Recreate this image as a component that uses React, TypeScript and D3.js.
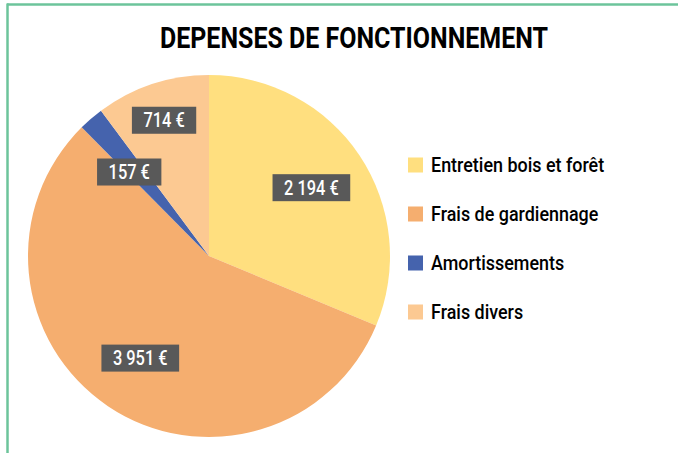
import * as React from 'react'
import { useEffect, useRef } from 'react'
import * as d3 from 'd3'

const categories = ['Entretien bois et forêt', 'Frais de gardiennage', 'Amortissements', 'Frais divers']
const values = [2194, 3951, 157, 714]
const valueLabels = ['2 194 €', '3 951 €', '157 €', '714 €']
const colors = ['#FFDF7F', '#F5AE6F', '#4563AD', '#FCC992']
const title = 'DEPENSES DE FONCTIONNEMENT'

const W = 678
const H = 453
const FONT = "Roboto, 'Liberation Sans', sans-serif"
const NARROW = 0.82
const LEGEND_NARROW = 0.92

interface Slice {
  name: string
  value: number
  label: string
  color: string
}

const App = () => {
  const ref = useRef<HTMLDivElement | null>(null)

  useEffect(() => {
    const data: Slice[] = categories.map((c, i) => ({
      name: c, value: values[i], label: valueLabels[i], color: colors[i],
    }))

    const svg = d3.select(ref.current)
      .append('svg')
      .attr('width', W)
      .attr('height', H)
      .style('position', 'absolute')
      .style('left', '0px')
      .style('top', '0px')
      .style('background', '#fff')

    // frame (top + left border)
    svg.append('line')
      .attr('x1', 7).attr('y1', 4.5).attr('x2', W).attr('y2', 4.5)
      .attr('stroke', '#6CC49B').attr('stroke-width', 2.5)
    svg.append('line')
      .attr('x1', 7.5).attr('y1', 3.5).attr('x2', 7.5).attr('y2', H)
      .attr('stroke', '#6CC49B').attr('stroke-width', 2.5)

    svg.append('text')
      .attr('x', 354)
      .attr('y', 48)
      .attr('text-anchor', 'middle')
      .attr('font-family', FONT)
      .attr('font-weight', 'bold')
      .attr('font-size', 29)
      .attr('fill', '#000')
      .attr('textLength', 388)
      .attr('lengthAdjust', 'spacingAndGlyphs')
      .text(title)

    const cx = 209
    const cy = 256
    const r = 181

    const pie = d3.pie<Slice>().value(d => d.value).sort(null)
    const arcs = pie(data)
    const arc = d3.arc<d3.PieArcDatum<Slice>>().innerRadius(0).outerRadius(r)

    const g = svg.append('g').attr('transform', `translate(${cx},${cy})`)

    g.selectAll('path.slice')
      .data(arcs)
      .enter()
      .append('path')
      .attr('class', 'slice')
      .attr('d', arc)
      .attr('fill', d => d.data.color)

    // label radius as a fraction of r (best fit placement)
    const labelFactor = (d: d3.PieArcDatum<Slice>, i: number) => {
      const span = d.endAngle - d.startAngle
      if (span > Math.PI / 2) return 0.68
      if (i === 2) return 0.64
      return 0.79
    }

    const labels = g.selectAll('g.lbl')
      .data(arcs)
      .enter()
      .append('g')
      .attr('class', 'lbl')
      .attr('transform', (d, i) => {
        const a = (d.startAngle + d.endAngle) / 2 - (i === 2 ? 0.05 : 0)
        const lr = r * labelFactor(d, i)
        return `translate(${lr * Math.sin(a)},${-lr * Math.cos(a)})`
      })

    const rects = labels.append('rect')
      .attr('fill', '#595959')

    const texts = labels.append('text')
      .attr('text-anchor', 'middle')
      .attr('dy', '0.36em')
      .attr('transform', `scale(${NARROW},1)`)
      .attr('font-family', FONT)
      .attr('font-weight', 500)
      .attr('font-size', 20)
      .attr('fill', '#fff')
      .text(d => d.data.label)

    texts.each(function (_, i) {
      const w = (this as SVGTextElement).getComputedTextLength() * NARROW
      const bw = w + 23
      d3.select(rects.nodes()[i])
        .attr('x', -bw / 2)
        .attr('y', -13.5)
        .attr('width', bw)
        .attr('height', 27)
    })

    // legend
    const legendY = d3.scalePoint<string>().domain(categories).range([165, 312])
    const leg = svg.selectAll('g.leg')
      .data(data)
      .enter()
      .append('g')
      .attr('class', 'leg')
      .attr('transform', d => `translate(408,${legendY(d.name)})`)

    leg.append('rect')
      .attr('x', 0).attr('y', -7.5)
      .attr('width', 15).attr('height', 15)
      .attr('fill', d => d.color)

    leg.append('text')
      .attr('transform', `translate(23,0) scale(${LEGEND_NARROW},1)`)
      .attr('dy', '0.36em')
      .attr('font-family', FONT)
      .attr('font-weight', 500)
      .attr('font-size', 19.5)
      .attr('fill', '#000')
      .text(d => d.name)

    return () => {
      svg.remove()
    }
  }, [])

  return <div ref={ref} />
}

export default App
